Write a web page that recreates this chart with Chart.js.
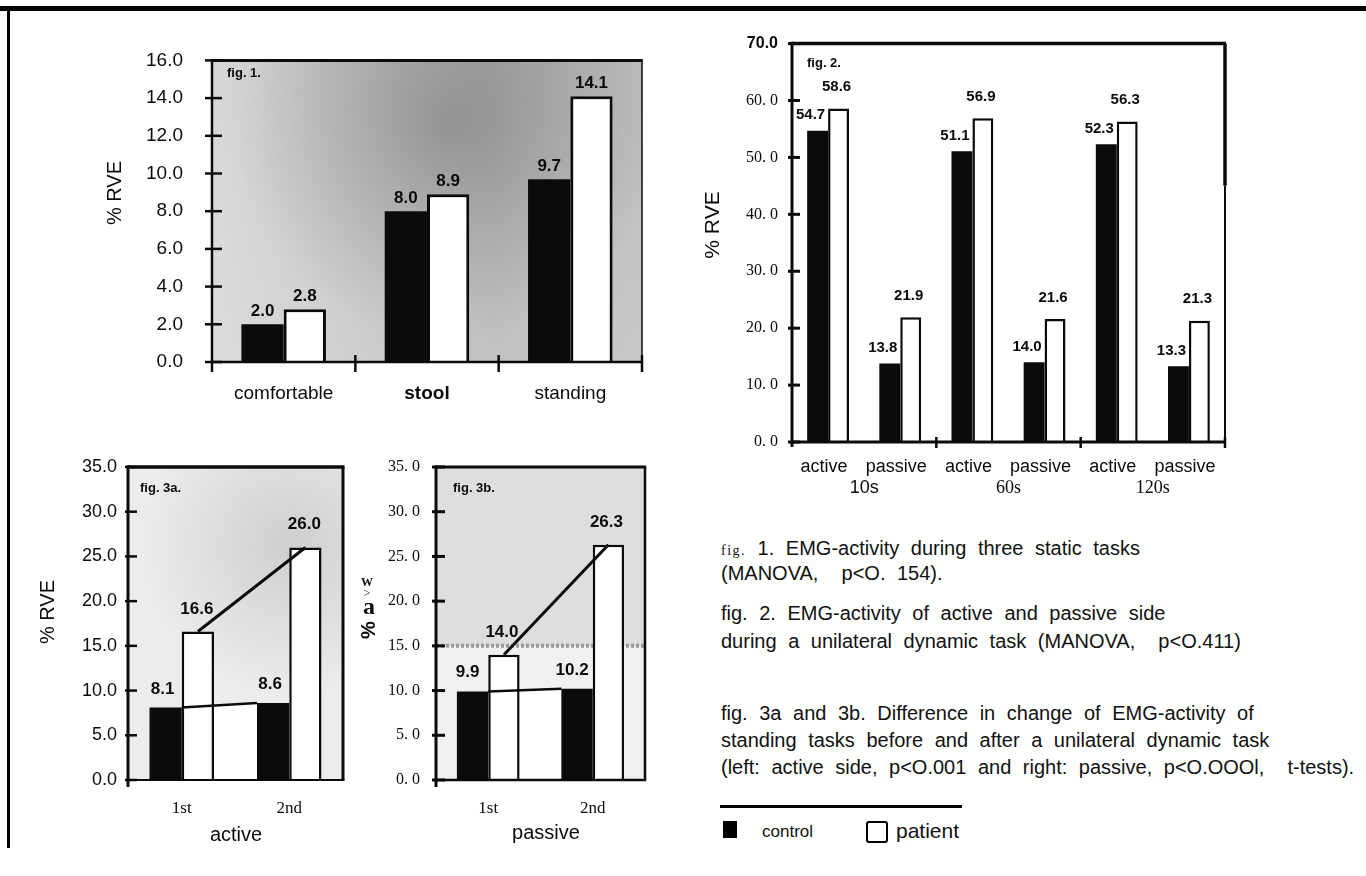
<!DOCTYPE html>
<html>
<head>
<meta charset="utf-8">
<script src="https://cdn.jsdelivr.net/npm/chart.js@4.4.1/dist/chart.umd.min.js"></script>
<style>
html,body{margin:0;padding:0;background:#fff;}
body{width:1366px;height:876px;position:relative;overflow:hidden;font-family:"Liberation Sans",Arial,sans-serif;color:#111;}
canvas{position:absolute;}
.cap{position:absolute;left:721px;font-size:20px;line-height:28px;word-spacing:6px;white-space:nowrap;color:#111;}
.sfig{font-family:"Liberation Serif","Times New Roman",serif;font-size:14px;letter-spacing:1.5px;word-spacing:0;}
.frame{position:absolute;background:#000;}
</style>
</head>
<body>
<div class="frame" style="left:0;top:6px;width:1366px;height:5px;"></div>
<div class="frame" style="left:7px;top:6px;width:3px;height:842px;"></div>

<canvas id="fig1" width="600" height="400" style="left:60px;top:20px;"></canvas>
<canvas id="fig2" width="580" height="500" style="left:680px;top:20px;"></canvas>
<canvas id="fig3a" width="330" height="420" style="left:20px;top:440px;"></canvas>
<canvas id="fig3b" width="320" height="420" style="left:350px;top:440px;"></canvas>

<div class="cap" style="top:534px;"><span class="sfig">fig.</span> 1. EMG-activity during three static tasks</div>
<div class="cap" style="top:559px;">(MANOVA,&nbsp; p&lt;O. 154).</div>
<div class="cap" style="top:599px;">fig. 2. EMG-activity of active and passive side</div>
<div class="cap" style="top:627px;">during a unilateral dynamic task (MANOVA,&nbsp; p&lt;O.411)</div>
<div class="cap" style="top:699px;">fig. 3a and 3b. Difference in change of EMG-activity of</div>
<div class="cap" style="top:726px;">standing tasks before and after a unilateral dynamic task</div>
<div class="cap" style="top:753px;">(left: active side, p&lt;O.001 and right: passive, p&lt;O.OOOl,&nbsp; t-tests).</div>
<div class="frame" style="left:720px;top:805px;width:242px;height:3px;"></div>
<div class="frame" style="left:723px;top:821px;width:14px;height:17px;"></div>
<div style="position:absolute;left:762px;top:821px;font-size:17px;line-height:22px;">control</div>
<div style="position:absolute;left:866px;top:821px;width:18px;height:18px;border:2.5px solid #000;border-radius:3px;"></div>
<div style="position:absolute;left:896px;top:818px;font-size:21px;line-height:26px;">patient</div>

<script>
// ---------------- data ----------------
const fig1Categories = ['comfortable', 'stool', 'standing'];
const fig1Control = [2.0, 8.0, 9.7];
const fig1Patient = [2.8, 8.9, 14.1];
const fig1YTickLabels = ['0.0', '2.0', '4.0', '6.0', '8.0', '10.0', '12.0', '14.0', '16.0'];

const fig2Sides = ['active', 'passive', 'active', 'passive', 'active', 'passive'];
const fig2Durations = ['10s', '60s', '120s'];
const fig2Control = [54.7, 13.8, 51.1, 14.0, 52.3, 13.3];
const fig2Patient = [58.6, 21.9, 56.9, 21.6, 56.3, 21.3];
const fig2YTickLabels = ['0. 0', '10. 0', '20. 0', '30. 0', '40. 0', '50. 0', '60. 0', '70.0'];

const fig3Sessions = ['1st', '2nd'];
const fig3aControl = [8.1, 8.6];
const fig3aPatient = [16.6, 26.0];
const fig3bControl = [9.9, 10.2];
const fig3bPatient = [14.0, 26.3];
const fig3aYTickLabels = ['0.0', '5.0', '10.0', '15.0', '20.0', '25.0', '30.0', '35.0'];
const fig3bYTickLabels = ['0. 0', '5. 0', '10. 0', '15. 0', '20. 0', '25. 0', '30. 0', '35. 0'];

// ---------------- styling ----------------
const INK = '#0b0b0b';
const SANS = '"Liberation Sans", Arial, sans-serif';
const SERIF = '"Liberation Serif", "Times New Roman", serif';

const decoPlugin = {
  id: 'deco',
  beforeDatasetsDraw(chart, _args, o) {
    const ctx = chart.ctx, a = chart.chartArea;
    ctx.save();
    if (o.bg) o.bg(ctx, a, chart);
    if (o.connect) {
      const c = chart.getDatasetMeta(0).data;
      const x0 = c[0].x + c[0].width / 2, x1 = c[1].x - c[1].width / 2;
      ctx.fillStyle = '#ffffff';
      ctx.beginPath();
      ctx.moveTo(x0, c[0].y); ctx.lineTo(x1, c[1].y);
      ctx.lineTo(x1, c[1].base); ctx.lineTo(x0, c[0].base);
      ctx.closePath(); ctx.fill();
    }
    ctx.restore();
  },
  afterDatasetsDraw(chart, _args, o) {
    const ctx = chart.ctx, a = chart.chartArea, ys = chart.scales.y;
    ctx.save();
    ctx.strokeStyle = INK; ctx.lineCap = 'butt';
    const line = (x1, y1, x2, y2, w) => { if (!w) return; ctx.lineWidth = w; ctx.beginPath(); ctx.moveTo(x1, y1); ctx.lineTo(x2, y2); ctx.stroke(); };
    if (o.connect) {
      const c = chart.getDatasetMeta(0).data, p = chart.getDatasetMeta(1).data;
      line(c[0].x + c[0].width / 2, c[0].y, c[1].x - c[1].width / 2, c[1].y, 2.5);
      line(p[0].x, p[0].y, p[1].x, p[1].y, 3);
    }
    const b = o.border;
    line(a.left, a.top, a.right + b.right / 2, a.top, b.top);
    if (b.rightSplit) {
      line(a.right, a.top, a.right, a.top + b.rightSplit, b.rightThick);
      line(a.right, a.top + b.rightSplit, a.right, a.bottom, b.right);
    } else {
      line(a.right, a.top, a.right, a.bottom, b.right);
    }
    line(a.left, a.top - b.top / 2, a.left, a.bottom + b.leftExt, b.left);
    line(a.left, a.bottom, a.right + b.right / 2, a.bottom, b.bottom);
    ys.ticks.forEach(t => {
      const y = ys.getPixelForValue(t.value);
      line(a.left - o.yTick[0], y, a.left + o.yTick[1], y, o.yTick[2]);
    });
    (o.xTicks || []).forEach(f => {
      const x = a.left + f * a.width;
      line(x, a.bottom - o.xTick[0], x, a.bottom + o.xTick[1], o.xTick[2]);
    });
    ctx.fillStyle = INK; ctx.textAlign = 'center'; ctx.textBaseline = 'alphabetic';
    o.values.forEach((vl, di) => {
      const meta = chart.getDatasetMeta(di);
      const data = chart.data.datasets[di].data;
      ctx.font = vl.font;
      meta.data.forEach((bar, i) => ctx.fillText(data[i].toFixed(1), bar.x + vl.dx, bar.y - vl.dy));
    });
    (o.texts || []).forEach(t => {
      ctx.save();
      ctx.font = t.font; ctx.fillStyle = INK;
      ctx.textAlign = t.align || 'center'; ctx.textBaseline = 'middle';
      ctx.translate(t.x - o.ox, t.y - o.oy);
      if (t.rot) ctx.rotate(-Math.PI / 2);
      ctx.fillText(t.t, 0, 0);
      ctx.restore();
    });
    ctx.restore();
  }
};
Chart.register(decoPlugin);

function barDatasets(control, patient, pBorder) {
  return [
    { label: 'control', data: control, backgroundColor: INK, borderWidth: 0, barPercentage: 1.0 },
    { label: 'patient', data: patient, backgroundColor: '#ffffff', borderColor: INK, borderWidth: pBorder, barPercentage: 1.0 }
  ];
}

function baseOptions(g, yMax, yStep, yLabels, yFont, yPad, catPct, deco) {
  return {
    responsive: false, animation: false, devicePixelRatio: 1,
    events: [],
    layout: { padding: { top: g.T - g.cy, right: g.cx + g.cw - g.R, left: 0, bottom: 0 } },
    datasets: { bar: { categoryPercentage: catPct } },
    plugins: { legend: { display: false }, tooltip: { enabled: false }, deco: Object.assign({ ox: g.cx, oy: g.cy }, deco) },
    scales: {
      y: {
        min: 0, max: yMax,
        grid: { display: false, drawTicks: false }, border: { display: false },
        ticks: { stepSize: yStep, padding: yPad, color: INK, font: yFont, callback: (v, i) => yLabels[i] },
        afterFit: s => { s.width = g.L - g.cx; }
      }
    }
  };
}

// ---------------- fig. 1 ----------------
(function () {
  const g = { cx: 60, cy: 20, cw: 600, ch: 400, L: 212, T: 50, R: 642, B: 362 };
  const opts = baseOptions(g, 16, 2, fig1YTickLabels, { family: SANS, size: 19 }, 29, 0.59, {
    bg: (ctx, a) => {
      let lg = ctx.createLinearGradient(a.left, 0, a.right, 0);
      lg.addColorStop(0, '#d6d6d6'); lg.addColorStop(0.3, '#c6c6c6'); lg.addColorStop(0.65, '#b4b4b4'); lg.addColorStop(1, '#bdbdbd');
      ctx.fillStyle = lg; ctx.fillRect(a.left, a.top, a.width, a.height);
      const cx = a.left + a.width * 0.55, cy = a.top + a.height * 0.22;
      let rg = ctx.createRadialGradient(cx, cy, 5, cx, cy, a.width * 0.5);
      rg.addColorStop(0, 'rgba(40,40,40,0.28)'); rg.addColorStop(1, 'rgba(40,40,40,0)');
      ctx.fillStyle = rg; ctx.fillRect(a.left, a.top, a.width, a.height);
      let vg = ctx.createLinearGradient(0, a.top, 0, a.bottom);
      vg.addColorStop(0, 'rgba(255,255,255,0)'); vg.addColorStop(1, 'rgba(255,255,255,0.18)');
      ctx.fillStyle = vg; ctx.fillRect(a.left, a.top, a.width, a.height);
    },
    border: { top: 3, right: 1.5, left: 2.5, bottom: 2.5, leftExt: 10 },
    yTick: [7, 10, 2.5],
    xTicks: [1 / 3, 2 / 3, 1],
    xTick: [7, 10, 2.5],
    values: [{ dx: 0, dy: 8, font: 'bold 17px ' + SANS }, { dx: 0, dy: 8, font: 'bold 17px ' + SANS }],
    texts: [
      { t: '% RVE', x: 115, y: 193, rot: true, font: '20px ' + SANS },
      { t: 'fig. 1.', x: 227, y: 73, align: 'left', font: 'bold 13px ' + SANS }
    ]
  });
  opts.scales.x = {
    grid: { display: false, drawTicks: false }, border: { display: false },
    ticks: { padding: 20, color: INK, font: c => ({ family: SANS, size: 19, weight: c.index === 1 ? 'bold' : 'normal' }) },
    afterFit: s => { s.height = g.cy + g.ch - g.B; }
  };
  new Chart(document.getElementById('fig1'), {
    type: 'bar',
    data: { labels: fig1Categories, datasets: barDatasets(fig1Control, fig1Patient, 3) },
    options: opts
  });
})();

// ---------------- fig. 2 ----------------
(function () {
  const g = { cx: 680, cy: 20, cw: 580, ch: 500, L: 792, T: 43, R: 1225, B: 442 };
  const yFont = c => (c.tick && c.tick.value === 70) ? { family: SANS, size: 16, weight: 'bold' } : { family: SERIF, size: 16 };
  const opts = baseOptions(g, 70, 10, fig2YTickLabels, yFont, 14, 0.58, {
    bg: (ctx, a) => { ctx.fillStyle = '#ffffff'; ctx.fillRect(a.left, a.top, a.width, a.height); },
    border: { top: 3.5, right: 2, rightSplit: 142, rightThick: 3.5, left: 3, bottom: 3, leftExt: 5 },
    yTick: [4, 8, 3],
    xTicks: [1 / 3, 2 / 3, 1],
    xTick: [5, 6, 2.5],
    values: [{ dx: -7, dy: 11.5, font: 'bold 15px ' + SANS }, { dx: -2, dy: 17.5, font: 'bold 15px ' + SANS }],
    texts: [
      { t: '% RVE', x: 713, y: 225, rot: true, font: '21px ' + SANS },
      { t: 'fig. 2.', x: 807, y: 63, align: 'left', font: 'bold 13px ' + SANS }
    ]
  });
  opts.scales.x = {
    weight: 0,
    grid: { display: false, drawTicks: false }, border: { display: false },
    ticks: { padding: 14, labelOffset: -4, color: INK, font: { family: SANS, size: 18 } },
    afterFit: s => { s.height = 35; }
  };
  opts.scales.x2 = {
    type: 'category', position: 'bottom', weight: 1, display: true, offset: true,
    labels: fig2Durations,
    grid: { display: false, drawTicks: false }, border: { display: false },
    ticks: { padding: 0, color: INK, font: c => c.index === 0 ? { family: SANS, size: 18 } : { family: SERIF, size: 18 } },
    afterFit: s => { s.height = g.cy + g.ch - g.B - 35; }
  };
  new Chart(document.getElementById('fig2'), {
    type: 'bar',
    data: { labels: fig2Sides, datasets: barDatasets(fig2Control, fig2Patient, 2.5) },
    options: opts
  });
})();

// ---------------- fig. 3a / 3b ----------------
function fig3(id, g, control, patient, yLabels, yFont, yPad, deco) {
  const opts = baseOptions(g, 35, 5, yLabels, yFont, yPad, 0.6, deco);
  opts.scales.x = {
    grid: { display: false, drawTicks: false }, border: { display: false },
    ticks: { padding: 18, color: INK, font: { family: SERIF, size: 17 } },
    afterFit: s => { s.height = g.cy + g.ch - g.B; }
  };
  new Chart(document.getElementById(id), {
    type: 'bar',
    data: { labels: fig3Sessions, datasets: barDatasets(control, patient, 2.5) },
    options: opts
  });
}

fig3('fig3a', { cx: 20, cy: 440, cw: 330, ch: 420, L: 128, T: 467, R: 343, B: 780 },
  fig3aControl, fig3aPatient, fig3aYTickLabels, { family: SANS, size: 18 }, 11, {
    bg: (ctx, a) => {
      ctx.fillStyle = '#ececec'; ctx.fillRect(a.left, a.top, a.width, a.height);
      const cx = a.left + a.width * 0.75, cy = a.top + a.height * 0.25;
      let rg = ctx.createRadialGradient(cx, cy, 5, cx, cy, a.width * 0.7);
      rg.addColorStop(0, 'rgba(60,60,60,0.16)'); rg.addColorStop(1, 'rgba(60,60,60,0)');
      ctx.fillStyle = rg; ctx.fillRect(a.left, a.top, a.width, a.height);
    },
    connect: true,
    border: { top: 3.5, right: 3, left: 3, bottom: 2, leftExt: 7 },
    yTick: [3, 9, 2.5],
    xTicks: [],
    xTick: [0, 0, 0],
    values: [{ dx: -3, dy: 14, font: 'bold 17px ' + SANS }, { dx: -1, dy: 18, font: 'bold 17px ' + SANS }],
    texts: [
      { t: '% RVE', x: 48, y: 612, rot: true, font: '20px ' + SANS },
      { t: 'fig. 3a.', x: 140, y: 488, align: 'left', font: 'bold 13px ' + SANS },
      { t: 'active', x: 236, y: 835, font: '20px ' + SANS }
    ]
  });

fig3('fig3b', { cx: 350, cy: 440, cw: 320, ch: 420, L: 436, T: 467, R: 645, B: 780 },
  fig3bControl, fig3bPatient, fig3bYTickLabels, { family: SERIF, size: 16 }, 16, {
    bg: (ctx, a, chart) => {
      const y15 = chart.scales.y.getPixelForValue(15);
      ctx.fillStyle = '#dedede'; ctx.fillRect(a.left, a.top, a.width, y15 - a.top);
      ctx.fillStyle = '#f0f0f0'; ctx.fillRect(a.left, y15, a.width, a.bottom - y15);
      ctx.strokeStyle = '#9a9a9a'; ctx.lineWidth = 4; ctx.setLineDash([3, 2]);
      ctx.beginPath(); ctx.moveTo(a.left, y15); ctx.lineTo(a.right, y15); ctx.stroke();
      ctx.setLineDash([]);
    },
    connect: true,
    border: { top: 3, right: 2.5, left: 3, bottom: 2.5, leftExt: 7 },
    yTick: [4, 9, 3],
    xTicks: [],
    xTick: [0, 0, 0],
    values: [{ dx: -5, dy: 14, font: 'bold 17px ' + SANS }, { dx: -2, dy: 18, font: 'bold 17px ' + SANS }],
    texts: [
      { t: '%', x: 369, y: 630, rot: true, font: 'bold 20px ' + SANS },
      { t: 'a', x: 369, y: 608, font: 'bold 24px ' + SERIF },
      { t: '>', x: 367, y: 594, font: '12px ' + SERIF },
      { t: 'W', x: 367, y: 583, font: 'bold 12px ' + SERIF },
      { t: 'fig. 3b.', x: 453, y: 488, align: 'left', font: 'bold 13px ' + SANS },
      { t: 'passive', x: 546, y: 833, font: '20px ' + SANS }
    ]
  });
</script>
</body>
</html>
